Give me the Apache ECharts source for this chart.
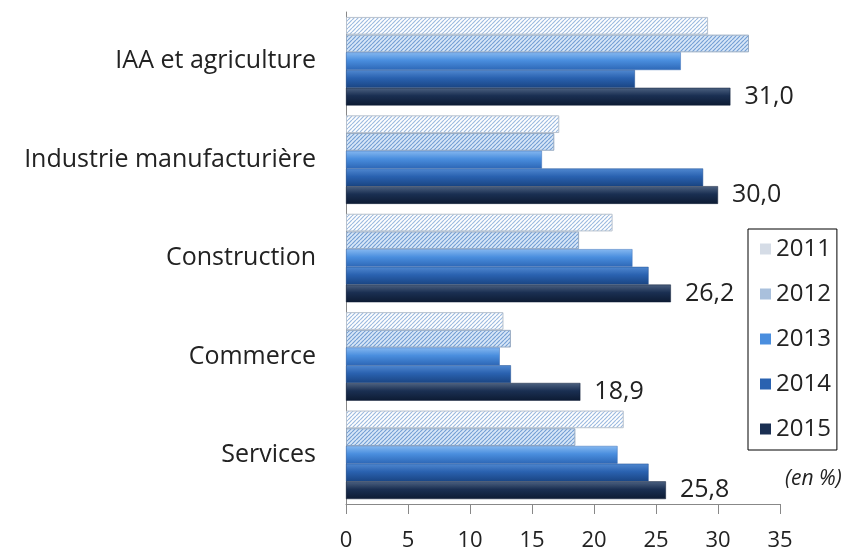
<!DOCTYPE html>
<html>
<head>
<meta charset="utf-8">
<script src="https://cdn.jsdelivr.net/npm/echarts@6/dist/echarts.min.js"></script>
<style>
html,body{margin:0;padding:0;background:#fff;}
#chart{width:854px;height:552px;}
</style>
</head>
<body>
<div id="chart"></div>
<script>
const categories = ["IAA et agriculture", "Industrie manufacturière", "Construction", "Commerce", "Services"];
const years = ["2011", "2012", "2013", "2014", "2015"];
const v2011 = [29.2, 17.2, 21.5, 12.7, 22.4];
const v2012 = [32.5, 16.8, 18.8, 13.3, 18.5];
const v2013 = [27.0, 15.8, 23.1, 12.4, 21.9];
const v2014 = [23.3, 28.8, 24.4, 13.3, 24.4];
const v2015 = [31.0, 30.0, 26.2, 18.9, 25.8];
const xTicks = [0, 5, 10, 15, 20, 25, 30, 35];

function hatch(bg, line, step) {
  const c = document.createElement('canvas');
  c.width = step; c.height = step;
  const g = c.getContext('2d');
  g.fillStyle = bg; g.fillRect(0, 0, step, step);
  g.strokeStyle = line; g.lineWidth = 1.2;
  g.beginPath();
  for (let k = -step; k <= step * 2; k += step) {
    g.moveTo(k, step); g.lineTo(k + step, 0);
  }
  g.stroke();
  return c;
}
const pat2011 = { image: hatch('#ffffff', '#9dbbe0', 4), repeat: 'repeat' };
const pat2012 = { image: hatch('#d8e7f8', '#759fd4', 4), repeat: 'repeat' };

function grad(top, mid, bottom) {
  return new echarts.graphic.LinearGradient(0, 0, 0, 1, [
    { offset: 0, color: top }, { offset: 0.45, color: mid }, { offset: 1, color: bottom }
  ]);
}

const seriesData = [v2011, v2012, v2013, v2014, v2015];
const styles = [
  { color: pat2011, borderColor: '#b8c2ce', borderWidth: 1 },
  { color: pat2012, borderColor: '#98abc2', borderWidth: 1 },
  { color: grad('#86b8f0', '#4a8ede', '#2d67b6'), borderColor: '#3a6fb8', borderWidth: 0.5 },
  { color: grad('#5088d0', '#2a62b0', '#1a4583'), borderColor: '#1f4f92', borderWidth: 0.5 },
  { color: grad('#4d6281', '#1a2f52', '#0d1b33'), borderColor: '#0e1d36', borderWidth: 0.5 }
];
const legendColors = ['#d5dce6', '#a9c0dc', '#4a8ede', '#2a62b0', '#1a2f52'];

const series = years.map((y, i) => ({
  name: y,
  type: 'bar',
  data: seriesData[i],
  barGap: '0%',
  barCategoryGap: '10%',
  itemStyle: styles[i],
  label: i === 4 ? {
    show: true, position: 'right', distance: 14,
    fontFamily: 'Open Sans', fontSize: 25, color: '#222',
    formatter: p => p.value.toFixed(1).replace('.', ',')
  } : { show: false }
}));

const chart = echarts.init(document.getElementById('chart'), null, { renderer: 'canvas' });
chart.setOption({
  animation: false,
  backgroundColor: '#fff',
  grid: { left: 346, right: 74, top: 12, bottom: 48, containLabel: false },
  xAxis: {
    type: 'value', min: xTicks[0], max: xTicks[xTicks.length - 1], interval: 5,
    axisLine: { show: true, lineStyle: { color: '#888', width: 1 } },
    axisTick: { show: true, length: 10, lineStyle: { color: '#888' } },
    splitLine: { show: false },
    axisLabel: { fontFamily: 'Open Sans', fontSize: 22, color: '#222', margin: 26 }
  },
  yAxis: {
    type: 'category', data: categories, inverse: true,
    axisLine: { show: true, lineStyle: { color: '#888', width: 1 } },
    axisTick: { show: false },
    axisLabel: { fontFamily: 'Open Sans', fontSize: 25, color: '#222', margin: 30 }
  },
  legend: {
    orient: 'vertical', left: 748, top: 229,
    data: years.map((y, i) => ({ name: y, itemStyle: { color: legendColors[i], borderWidth: 0 } })),
    icon: 'rect', itemWidth: 11, itemHeight: 11, itemGap: 21,
    borderColor: '#000', borderWidth: 1, padding: [8, 6, 9, 12],
    textStyle: { fontFamily: 'Open Sans', fontSize: 24, color: '#222' }
  },
  graphic: [{
    type: 'text', left: 785, top: 469,
    style: { text: '(en %)', font: 'italic 21px "Open Sans"', fill: '#222' }
  }],
  series: series
});
</script>
</body>
</html>
